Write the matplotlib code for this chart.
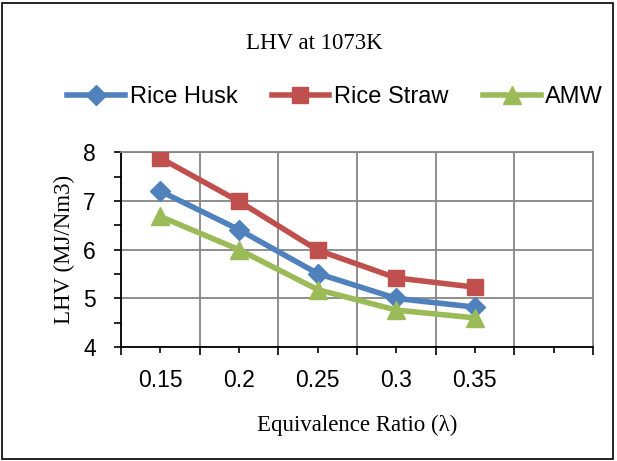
import matplotlib.pyplot as plt
from matplotlib.patches import Rectangle
from matplotlib.lines import Line2D

# data
ratios = ["0.15", "0.2", "0.25", "0.3", "0.35"]
rice_husk = [7.2, 6.41, 5.51, 5.0, 4.82]
rice_straw = [7.88, 6.99, 5.99, 5.42, 5.23]
amw = [6.68, 6.0, 5.18, 4.76, 4.6]

sans = ["Liberation Sans", "DejaVu Sans"]
serif = ["Liberation Serif", "DejaVu Serif"]

fig = plt.figure(figsize=(6.17, 4.61), dpi=100)
ax = fig.add_axes([0.196, 0.247, 0.765, 0.423])

xs = list(range(len(ratios)))
series = [
    ("Rice Husk", rice_husk, "#4F81BD", "D", 10),
    ("Rice Straw", rice_straw, "#C0504D", "s", 12),
    ("AMW", amw, "#9BBB59", "^", 13),
]
handles = []
for name, vals, col, mk, ms in series:
    ax.plot(xs, vals, color=col, lw=4, marker=mk, markersize=ms, zorder=3)
    handles.append(Line2D([], [], color=col, lw=4, marker=mk, markersize=ms, label=name))

ax.set_xlim(-0.5, 5.5)
ax.set_ylim(4, 8)

ax.set_xticks(range(6))
ax.set_xticklabels(ratios + [""], fontsize=16.5, family=sans)
ax.set_xticks([i - 0.5 for i in range(7)], minor=True)
ax.tick_params(axis="x", which="major", length=4, width=1.2, direction="out", pad=12)
ax.tick_params(axis="x", which="minor", length=6, width=1.2, direction="out")

ax.set_yticks([4, 5, 6, 7, 8])
ax.set_yticklabels(["4", "5", "6", "7", "8"], fontsize=16.5, family=sans)
ax.set_yticks([4.5, 5.5, 6.5, 7.5], minor=True)
ax.tick_params(axis="y", which="both", length=5, width=1.2, direction="out", pad=13)

ax.grid(True, which="minor", axis="x", color="#868686", lw=1.3)
ax.grid(True, which="major", axis="y", color="#868686", lw=1.3)
ax.set_axisbelow(True)

for s in ["top", "right"]:
    ax.spines[s].set_color("#868686")
    ax.spines[s].set_linewidth(1.3)
for s in ["left", "bottom"]:
    ax.spines[s].set_color("black")
    ax.spines[s].set_linewidth(1.3)

ax.set_xlabel("Equivalence Ratio (λ)", fontsize=16.5, family=serif, labelpad=16)
ax.set_ylabel("LHV (MJ/Nm3)", fontsize=16.5, family=serif, labelpad=6)

fig.text(0.51, 0.905, "LHV at 1073K", ha="center", va="center", fontsize=16.5, family=serif)

fig.legend(handles=handles, loc="center", bbox_to_anchor=(0.543, 0.79), ncol=3,
           frameon=False, prop={"family": sans, "size": 17}, handlelength=2.45,
           handletextpad=0.2, columnspacing=1.45)

fig.patches.append(Rectangle((0.003, 0.004), 0.99, 0.99, transform=fig.transFigure,
                             fill=False, edgecolor="black", lw=1.2))

fig.savefig("out.png", dpi=100)
